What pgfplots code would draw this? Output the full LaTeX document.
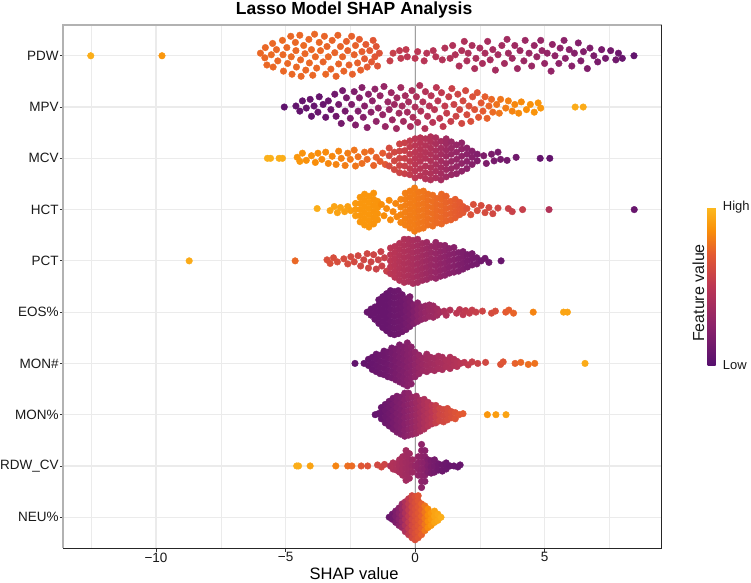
\documentclass[border=0pt]{standalone}
\usepackage{pgfplots}
\pgfplotsset{compat=1.18}
\usepackage{fontspec}
\setmainfont{Liberation Sans}
\definecolor{gridc}{RGB}{235,235,235}
\definecolor{zeroline}{RGB}{160,160,160}
\definecolor{frameL}{RGB}{178,178,178}
\pgfplotsset{
  colormap={shap}{rgb255(0pt)=(87,16,110) rgb255(25pt)=(140,35,106) rgb255(50pt)=(188,55,84) rgb255(70pt)=(228,90,49) rgb255(85pt)=(249,142,9) rgb255(100pt)=(252,186,31)},
  swarm/.style={scatter, only marks, mark=*, mark size=3.3pt, point meta=explicit,
    scatter/use mapped color={draw=mapped color, fill=mapped color}},
}
\begin{document}
\begin{tikzpicture}
\begin{axis}[
  name=ax,
  scale only axis, width=598.4pt, height=523pt,
  xmin=-13.58, xmax=9.52, ymin=0.4, ymax=10.6,
  xtick={-10,-5,0,5}, xticklabels={−10,−5,0,5},
  minor xtick={-12.5,-7.5,-2.5,2.5,7.5},
  ytick={1,2,...,10},
  yticklabels={NEU\%,RDW\_CV,MON\%,MON\#,EOS\%,PCT,HCT,MCV,MPV,PDW},
  grid=both,
  major grid style={gridc, line width=1.2pt},
  minor grid style={gridc, line width=0.6pt},
  tick pos=left, tick align=outside,
  major tick length=3.5pt, minor tick length=0pt,
  tick style={black!80, line width=0.8pt},
  axis line style={draw=none},
  ticklabel style={font=\fontsize{13.5}{16}\selectfont, text=black!90},
  yticklabel style={inner sep=1pt},
  xticklabel style={inner sep=1pt},
  xlabel={SHAP value},
  xlabel style={font=\fontsize{16.5}{19}\selectfont, at={(axis description cs:0.486,0)}, anchor=base, yshift=-31pt},
  title={Lasso Model SHAP Analysis},
  title style={font=\bfseries\fontsize{17.5}{20}\selectfont, at={(axis description cs:0.486,1)}, anchor=base, yshift=4pt},
  colormap name=shap, point meta min=0, point meta max=1,
  colorbar,
  colorbar style={
    at={(parent axis.south east)}, anchor=south west,
    xshift=37.5pt, yshift=183pt,
    width=8pt, height=158pt,
    ytick={0,1}, yticklabels={Low,High},
    major tick length=0pt,
    axis line style={draw=none},
    yticklabel style={font=\fontsize{13}{15}\selectfont, inner sep=0pt, anchor=west, xshift=7pt, text=black!90},
    ylabel={Feature value},
    ylabel style={font=\fontsize{16}{19}\selectfont, at={(axis description cs:0,0.5)}, anchor=south, xshift=-7pt, text=black!90},
  },
  after end axis/.code={
    \draw[frameL, line width=1.6pt] (axis description cs:0,0) -- (axis description cs:0,1) -- (axis description cs:1,1);
    \draw[black!85, line width=0.9pt] (axis description cs:0,0) -- (axis description cs:1,0) -- (axis description cs:1,1);
  },
]
% reference line at zero
\addplot[zeroline, line width=1pt, forget plot] coordinates {(0,0.4) (0,10.6)};

% PDW
\addplot[swarm] table[row sep=\\, x=x, y expr=\thisrow{d}+10, meta=c] {
x d c\\
-12.52 0 .96\\ -9.77 0 .88\\
-5.97 0.05 .74\\ -5.80 -0.04 .74\\ -5.78 0.16 .74\\ -5.72 -0.18 .74\\ -5.55 0.02 .75\\ -5.50 0.24 .74\\
-5.48 -0.22 .74\\ -5.35 0.12 .74\\ -5.30 -0.10 .74\\ -5.12 0.30 .75\\ -5.10 0.02 .74\\ -5.08 -0.30 .74\\
-4.95 0.16 .74\\ -4.92 -0.15 .74\\ -4.80 0.38 .74\\ -4.78 -0.02 .75\\ -4.75 -0.36 .74\\ -4.62 0.26 .74\\
-4.60 0.10 .74\\ -4.58 -0.22 .74\\ -4.45 0.40 .74\\ -4.42 -0.08 .74\\ -4.40 -0.40 .74\\ -4.30 0.20 .75\\
-4.25 0.04 .74\\ -4.22 -0.28 .74\\ -4.10 0.32 .74\\ -4.08 -0.14 .74\\ -4.00 0.12 .74\\ -3.95 -0.38 .74\\
-3.88 0.42 .74\\ -3.85 -0.02 .74\\ -3.80 -0.24 .74\\ -3.70 0.26 .74\\ -3.65 0.10 .74\\ -3.55 -0.12 .73\\
-3.50 0.38 .73\\ -3.45 -0.36 .74\\ -3.40 0.18 .73\\ -3.35 -0.02 .74\\ -3.25 -0.26 .73\\ -3.20 0.30 .73\\
-3.10 0.06 .73\\ -3.05 -0.40 .73\\ -2.98 0.40 .73\\ -2.95 -0.16 .73\\ -2.88 0.18 .73\\ -2.80 -0.02 .73\\
-2.75 -0.30 .73\\ -2.65 0.28 .72\\ -2.60 0.10 .72\\ -2.55 -0.18 .72\\ -2.45 0.38 .72\\ -2.42 -0.36 .72\\
-2.35 0.02 .72\\ -2.30 0.20 .72\\ -2.22 -0.14 .72\\ -2.15 0.32 .71\\ -2.10 -0.28 .72\\ -2.05 0.08 .71\\
-1.95 -0.06 .70\\ -1.90 0.22 .70\\ -1.85 -0.22 .70\\ -1.75 0.10 .70\\ -1.68 -0.12 .69\\ -1.62 0.30 .68\\
-1.55 -0.02 .68\\ -1.50 0.18 .67\\ -1.45 -0.20 .67\\ -1.38 0.05 .66\\
-0.97 -0.10 .55\\ -0.85 0.05 .55\\ -0.60 0.10 .52\\ -0.55 -0.05 .52\\ -0.35 0.12 .52\\ -0.30 -0.02 .50\\
0.00 -0.05 .50\\ 0.10 0.08 .50\\ 0.35 -0.10 .48\\ 0.45 0.05 .48\\ 0.70 0.10 .47\\ 0.80 -0.02 .47\\
1.05 -0.08 .45\\ 1.15 0.15 .45\\ 1.35 -0.05 .45\\ 1.45 0.20 .44\\ 1.55 0.02 .44\\ 1.70 -0.20 .43\\
1.80 0.10 .43\\ 1.90 0.28 .43\\ 2.00 -0.10 .42\\ 2.05 0.05 .42\\ 2.20 0.20 .41\\ 2.30 -0.25 .41\\
2.35 -0.05 .41\\ 2.50 0.15 .40\\ 2.60 -0.15 .40\\ 2.70 0.05 .40\\ 2.80 0.28 .39\\ 2.90 -0.08 .39\\
3.00 0.12 .38\\ 3.10 -0.28 .38\\ 3.20 0.02 .38\\ 3.35 0.20 .37\\ 3.45 -0.15 .37\\ 3.55 0.32 .36\\
3.60 0.05 .36\\ 3.75 -0.05 .35\\ 3.85 0.20 .35\\ 3.95 -0.25 .34\\ 4.05 0.10 .34\\ 4.20 -0.10 .33\\
4.25 0.30 .33\\ 4.40 0.05 .32\\ 4.50 -0.20 .32\\ 4.60 0.20 .31\\ 4.70 -0.02 .31\\ 4.85 0.30 .30\\
4.90 0.10 .30\\ 5.00 -0.15 .30\\ 5.10 0.05 .29\\ 5.25 -0.30 .28\\ 5.30 0.22 .28\\ 5.40 0.00 .27\\
5.55 -0.15 .26\\ 5.60 0.15 .26\\ 5.75 0.30 .25\\ 5.80 -0.05 .25\\ 5.95 0.12 .24\\ 6.05 -0.20 .23\\
6.15 0.05 .22\\ 6.30 0.25 .21\\ 6.40 -0.10 .20\\ 6.50 0.08 .20\\ 6.65 -0.25 .19\\ 6.75 0.15 .18\\
6.90 0.00 .17\\ 7.05 -0.12 .16\\ 7.20 0.12 .15\\ 7.35 -0.05 .14\\ 7.55 0.10 .13\\ 7.75 -0.08 .12\\
7.85 0.05 .10\\ 8.00 -0.05 .08\\ 8.45 0.00 .05\\
};

% MPV
\addplot[swarm] table[row sep=\\, x=x, y expr=\thisrow{d}+9, meta=c] {
x d c\\
-5.05 0 .04\\ -4.60 0.02 .05\\ -4.45 -0.08 .05\\ -4.35 0.12 .06\\ -4.20 -0.02 .06\\ -4.05 0.15 .07\\
-4.00 -0.18 .06\\ -3.90 0.02 .07\\ -3.75 -0.10 .08\\ -3.70 0.20 .07\\ -3.55 0.05 .08\\ -3.45 -0.20 .09\\
-3.35 0.12 .09\\ -3.25 -0.05 .10\\ -3.10 0.25 .12\\ -3.05 -0.18 .12\\ -2.95 0.05 .13\\ -2.85 -0.32 .14\\
-2.80 0.32 .14\\ -2.70 -0.08 .15\\ -2.65 0.18 .16\\ -2.50 -0.22 .17\\ -2.45 0.05 .18\\ -2.35 0.30 .19\\
-2.30 -0.35 .20\\ -2.20 -0.08 .20\\ -2.15 0.18 .21\\ -2.05 0.38 .22\\ -2.00 -0.20 .22\\ -1.95 0.02 .23\\
-1.85 -0.40 .24\\ -1.80 0.25 .24\\ -1.70 -0.10 .25\\ -1.65 0.12 .26\\ -1.55 0.35 .27\\ -1.50 -0.28 .27\\
-1.42 -0.02 .28\\ -1.35 0.22 .29\\ -1.25 -0.15 .30\\ -1.20 0.40 .30\\ -1.15 -0.38 .31\\ -1.05 0.10 .32\\
-1.00 -0.05 .32\\ -0.92 0.28 .33\\ -0.88 -0.25 .33\\ -0.80 0.05 .34\\ -0.72 -0.42 .35\\ -0.70 0.18 .35\\
-0.62 -0.12 .36\\ -0.55 0.38 .36\\ -0.50 0.02 .37\\ -0.45 -0.28 .37\\ -0.38 0.22 .38\\ -0.30 -0.10 .38\\
-0.25 0.10 .39\\ -0.18 -0.38 .40\\ -0.12 0.32 .40\\ -0.08 -0.20 .41\\ 0.00 0.00 .42\\ 0.05 0.20 .42\\
0.10 -0.30 .43\\ 0.18 0.42 .43\\ 0.22 -0.08 .44\\ 0.30 0.10 .45\\ 0.38 -0.42 .45\\ 0.40 0.30 .46\\
0.48 -0.18 .46\\ 0.55 0.02 .47\\ 0.62 0.22 .48\\ 0.68 -0.30 .48\\ 0.75 -0.05 .49\\ 0.82 0.38 .50\\
0.88 0.12 .50\\ 0.95 -0.22 .51\\ 1.02 0.28 .52\\ 1.08 -0.38 .52\\ 1.15 0.02 .53\\ 1.22 -0.12 .54\\
1.30 0.20 .55\\ 1.38 -0.28 .55\\ 1.42 0.36 .56\\ 1.50 0.05 .57\\ 1.58 -0.18 .58\\ 1.65 0.25 .58\\
1.72 -0.05 .59\\ 1.80 -0.32 .60\\ 1.85 0.12 .60\\ 1.95 0.32 .61\\ 2.00 -0.15 .62\\ 2.08 0.02 .63\\
2.15 -0.28 .64\\ 2.22 0.20 .65\\ 2.30 -0.05 .66\\ 2.40 0.28 .67\\ 2.45 -0.20 .68\\ 2.55 0.08 .69\\
2.62 -0.08 .70\\ 2.70 0.20 .71\\ 2.78 -0.22 .72\\ 2.85 0.02 .73\\ 2.95 0.15 .74\\ 3.00 -0.10 .75\\
3.15 0.05 .77\\ 3.25 -0.12 .78\\ 3.30 0.15 .78\\ 3.50 -0.02 .80\\ 3.60 0.12 .81\\ 3.75 -0.08 .82\\
3.85 0.05 .83\\ 4.00 -0.12 .84\\ 4.10 0.10 .84\\ 4.30 -0.05 .85\\ 4.45 0.05 .86\\ 4.60 -0.10 .87\\
4.75 0.08 .87\\ 4.85 -0.02 .88\\ 6.18 0.00 .95\\ 6.49 0.00 .95\\
};

% MCV
\addplot[swarm] table[row sep=\\, x=x, y expr=\thisrow{d}+8, meta=c] {
x d c\\
-5.70 0 .97\\ -5.58 0 .97\\ -5.25 0 .96\\ -5.12 0 .96\\
-4.55 0.02 .88\\ -4.45 -0.06 .88\\ -4.35 0.10 .87\\ -4.20 -0.04 .86\\ -4.00 0.05 .86\\ -3.85 -0.08 .85\\
-3.75 0.10 .85\\ -3.60 -0.02 .84\\ -3.45 0.12 .84\\ -3.35 -0.10 .83\\ -3.20 0.04 .83\\ -3.05 -0.12 .82\\
-2.95 0.14 .82\\ -2.85 0.00 .81\\ -2.70 -0.14 .80\\ -2.60 0.10 .80\\ -2.50 -0.02 .79\\ -2.35 0.16 .78\\
-2.30 -0.15 .78\\ -2.20 0.03 .77\\ -2.05 -0.10 .76\\ -1.95 0.12 .76\\ -1.85 -0.02 .75\\ -1.70 0.14 .74\\
-1.60 -0.14 .73\\ -1.50 0.02 .72\\ -1.35 -0.06 .71\\ -1.25 0.10 .70\\ -1.15 -0.12 .69\\
-1.0 -0.15 .62\\ -1.0 0.05 .62\\ -1.0 0.20 .62\\
-0.8 -0.22 .60\\ -0.8 -0.05 .60\\ -0.8 0.12 .60\\
-0.6 -0.28 .58\\ -0.6 -0.14 .58\\ -0.6 0.00 .58\\ -0.6 0.14 .58\\ -0.6 0.28 .58\\
-0.4 -0.30 .56\\ -0.4 -0.15 .56\\ -0.4 0.00 .56\\ -0.4 0.15 .56\\ -0.4 0.30 .56\\
-0.2 -0.32 .53\\ -0.2 -0.20 .53\\ -0.2 -0.06 .53\\ -0.2 0.08 .53\\ -0.2 0.22 .53\\ -0.2 0.34 .53\\
0.0 -0.38 .50\\ 0.0 -0.25 .50\\ 0.0 -0.12 .50\\ 0.0 0.00 .50\\ 0.0 0.12 .50\\ 0.0 0.25 .50\\ 0.0 0.38 .50\\
0.2 -0.34 .48\\ 0.2 -0.20 .48\\ 0.2 -0.06 .48\\ 0.2 0.06 .48\\ 0.2 0.18 .48\\ 0.2 0.30 .48\\ 0.2 0.40 .48\\
0.4 -0.40 .46\\ 0.4 -0.28 .46\\ 0.4 -0.15 .46\\ 0.4 0.00 .46\\ 0.4 0.12 .46\\ 0.4 0.25 .46\\ 0.4 0.38 .46\\
0.6 -0.42 .44\\ 0.6 -0.30 .44\\ 0.6 -0.18 .44\\ 0.6 -0.05 .44\\ 0.6 0.08 .44\\ 0.6 0.20 .44\\ 0.6 0.32 .44\\ 0.6 0.42 .44\\
0.8 -0.38 .41\\ 0.8 -0.25 .41\\ 0.8 -0.12 .41\\ 0.8 0.02 .41\\ 0.8 0.15 .41\\ 0.8 0.28 .41\\ 0.8 0.40 .41\\
1.0 -0.42 .38\\ 1.0 -0.30 .38\\ 1.0 -0.18 .38\\ 1.0 -0.05 .38\\ 1.0 0.08 .38\\ 1.0 0.20 .38\\ 1.0 0.33 .38\\
1.2 -0.36 .35\\ 1.2 -0.22 .35\\ 1.2 -0.10 .35\\ 1.2 0.04 .35\\ 1.2 0.16 .35\\ 1.2 0.28 .35\\ 1.2 0.38 .35\\
1.4 -0.32 .32\\ 1.4 -0.20 .32\\ 1.4 -0.06 .32\\ 1.4 0.08 .32\\ 1.4 0.20 .32\\ 1.4 0.32 .32\\
1.6 -0.30 .30\\ 1.6 -0.16 .30\\ 1.6 -0.02 .30\\ 1.6 0.12 .30\\ 1.6 0.26 .30\\
1.8 -0.25 .27\\ 1.8 -0.10 .27\\ 1.8 0.04 .27\\ 1.8 0.18 .27\\ 1.8 0.30 .27\\
2.0 -0.20 .25\\ 2.0 -0.06 .25\\ 2.0 0.08 .25\\ 2.0 0.20 .25\\
2.2 -0.12 .22\\ 2.2 0.02 .22\\ 2.2 0.14 .22\\
2.4 -0.05 .20\\ 2.4 0.08 .20\\
2.65 0.05 .18\\ 2.75 -0.10 .18\\ 2.95 0.08 .16\\ 3.05 -0.05 .15\\ 3.20 0.12 .15\\ 3.30 -0.02 .14\\
3.55 -0.04 .13\\ 3.90 0.02 .12\\ 4.83 0 .06\\ 5.20 0 .05\\
};

% HCT
\addplot[swarm] table[row sep=\\, x=x, y expr=\thisrow{d}+7, meta=c] {
x d c\\
-3.78 0.02 .96\\ -3.28 -0.02 .93\\ -3.12 0.06 .93\\ -3.00 -0.06 .92\\ -2.88 0.04 .92\\ -2.72 -0.04 .91\\
-2.60 0.06 .91\\ -2.48 -0.02 .90\\
-2.30 -0.12 .89\\ -2.30 0.00 .89\\ -2.30 0.12 .89\\
-2.12 -0.24 .88\\ -2.12 -0.12 .88\\ -2.12 0.00 .88\\ -2.12 0.12 .88\\ -2.12 0.24 .88\\
-1.95 -0.30 .88\\ -1.95 -0.18 .88\\ -1.95 -0.06 .88\\ -1.95 0.06 .88\\ -1.95 0.18 .88\\ -1.95 0.30 .88\\
-1.78 -0.34 .88\\ -1.78 -0.22 .88\\ -1.78 -0.10 .88\\ -1.78 0.02 .88\\ -1.78 0.14 .88\\ -1.78 0.26 .88\\
-1.60 -0.28 .87\\ -1.60 -0.16 .87\\ -1.60 -0.04 .87\\ -1.60 0.08 .87\\ -1.60 0.20 .87\\ -1.60 0.32 .87\\
-1.45 -0.20 .87\\ -1.45 -0.08 .87\\ -1.45 0.04 .87\\ -1.45 0.16 .87\\
-1.30 0.10 .85\\ -1.20 -0.12 .85\\ -1.10 0.02 .84\\ -1.00 0.18 .84\\ -0.95 -0.20 .84\\ -0.85 -0.04 .83\\
-0.75 0.12 .83\\ -0.70 -0.14 .83\\
-0.55 -0.25 .82\\ -0.55 -0.10 .82\\ -0.55 0.05 .82\\ -0.55 0.20 .82\\
-0.38 -0.30 .81\\ -0.38 -0.18 .81\\ -0.38 -0.05 .81\\ -0.38 0.08 .81\\ -0.38 0.20 .81\\ -0.38 0.32 .81\\
-0.20 -0.36 .80\\ -0.20 -0.24 .80\\ -0.20 -0.12 .80\\ -0.20 0.00 .80\\ -0.20 0.12 .80\\ -0.20 0.24 .80\\ -0.20 0.36 .80\\
-0.02 -0.42 .80\\ -0.02 -0.30 .80\\ -0.02 -0.18 .80\\ -0.02 -0.06 .80\\ -0.02 0.06 .80\\ -0.02 0.18 .80\\ -0.02 0.30 .80\\ -0.02 0.42 .80\\
0.15 -0.38 .79\\ 0.15 -0.26 .79\\ 0.15 -0.14 .79\\ 0.15 -0.02 .79\\ 0.15 0.10 .79\\ 0.15 0.22 .79\\ 0.15 0.34 .79\\
0.32 -0.36 .78\\ 0.32 -0.24 .78\\ 0.32 -0.12 .78\\ 0.32 0.00 .78\\ 0.32 0.12 .78\\ 0.32 0.24 .78\\ 0.32 0.36 .78\\
0.50 -0.30 .77\\ 0.50 -0.18 .77\\ 0.50 -0.06 .77\\ 0.50 0.06 .77\\ 0.50 0.18 .77\\ 0.50 0.30 .77\\
0.68 -0.32 .76\\ 0.68 -0.20 .76\\ 0.68 -0.08 .76\\ 0.68 0.04 .76\\ 0.68 0.16 .76\\ 0.68 0.28 .76\\
0.85 -0.26 .75\\ 0.85 -0.14 .75\\ 0.85 -0.02 .75\\ 0.85 0.10 .75\\ 0.85 0.22 .75\\
1.02 -0.28 .74\\ 1.02 -0.16 .74\\ 1.02 -0.04 .74\\ 1.02 0.08 .74\\ 1.02 0.20 .74\\ 1.02 0.30 .74\\
1.20 -0.22 .73\\ 1.20 -0.10 .73\\ 1.20 0.02 .73\\ 1.20 0.14 .73\\ 1.20 0.26 .73\\
1.38 -0.20 .72\\ 1.38 -0.08 .72\\ 1.38 0.04 .72\\ 1.38 0.16 .72\\
1.55 -0.16 .71\\ 1.55 -0.04 .71\\ 1.55 0.08 .71\\ 1.55 0.20 .71\\
1.72 -0.10 .70\\ 1.72 0.02 .70\\ 1.72 0.14 .70\\
1.85 -0.06 .69\\ 1.85 0.06 .69\\
2.00 0.02 .66\\ 2.15 -0.10 .65\\ 2.25 0.10 .64\\ 2.40 -0.02 .63\\ 2.55 0.08 .62\\ 2.70 -0.06 .62\\
2.85 0.04 .61\\ 3.00 -0.08 .60\\ 3.20 0.03 .59\\ 3.60 0.02 .57\\ 3.75 -0.04 .56\\ 4.15 0.00 .55\\
5.17 0 .45\\ 8.46 0 .08\\
};

% PCT
\addplot[swarm] table[row sep=\\, x=x, y expr=\thisrow{d}+6, meta=c] {
x d c\\
-8.72 0 .95\\ -4.63 0 .74\\
-3.40 0.02 .64\\ -3.28 -0.05 .64\\ -3.15 0.06 .63\\ -3.00 -0.02 .63\\ -2.75 0.04 .62\\ -2.60 -0.06 .62\\
-2.48 0.08 .61\\ -2.35 -0.02 .61\\ -2.20 0.10 .60\\ -2.10 -0.10 .60\\ -1.98 0.02 .59\\ -1.85 0.14 .59\\
-1.80 -0.14 .59\\ -1.70 -0.02 .58\\ -1.60 0.12 .58\\ -1.50 -0.16 .57\\ -1.42 0.02 .57\\ -1.32 0.18 .56\\
-1.28 -0.10 .56\\ -1.18 0.06 .55\\ -1.10 -0.20 .55\\
-0.95 -0.25 .50\\ -0.95 -0.12 .50\\ -0.95 0.00 .50\\ -0.95 0.12 .50\\ -0.95 0.25 .50\\
-0.78 -0.32 .48\\ -0.78 -0.20 .48\\ -0.78 -0.08 .48\\ -0.78 0.04 .48\\ -0.78 0.16 .48\\ -0.78 0.28 .48\\
-0.60 -0.38 .46\\ -0.60 -0.26 .46\\ -0.60 -0.14 .46\\ -0.60 -0.02 .46\\ -0.60 0.10 .46\\ -0.60 0.22 .46\\ -0.60 0.34 .46\\
-0.42 -0.42 .44\\ -0.42 -0.30 .44\\ -0.42 -0.18 .44\\ -0.42 -0.06 .44\\ -0.42 0.06 .44\\ -0.42 0.18 .44\\ -0.42 0.30 .44\\ -0.42 0.42 .44\\
-0.25 -0.40 .42\\ -0.25 -0.28 .42\\ -0.25 -0.16 .42\\ -0.25 -0.04 .42\\ -0.25 0.08 .42\\ -0.25 0.20 .42\\ -0.25 0.32 .42\\ -0.25 0.42 .42\\
-0.08 -0.44 .40\\ -0.08 -0.32 .40\\ -0.08 -0.20 .40\\ -0.08 -0.08 .40\\ -0.08 0.04 .40\\ -0.08 0.16 .40\\ -0.08 0.28 .40\\ -0.08 0.40 .40\\
0.10 -0.42 .38\\ 0.10 -0.30 .38\\ 0.10 -0.18 .38\\ 0.10 -0.06 .38\\ 0.10 0.06 .38\\ 0.10 0.18 .38\\ 0.10 0.30 .38\\ 0.10 0.42 .38\\
0.28 -0.38 .36\\ 0.28 -0.26 .36\\ 0.28 -0.14 .36\\ 0.28 -0.02 .36\\ 0.28 0.10 .36\\ 0.28 0.22 .36\\ 0.28 0.34 .36\\
0.45 -0.36 .34\\ 0.45 -0.24 .34\\ 0.45 -0.12 .34\\ 0.45 0.00 .34\\ 0.45 0.12 .34\\ 0.45 0.24 .34\\ 0.45 0.36 .34\\
0.62 -0.32 .32\\ 0.62 -0.20 .32\\ 0.62 -0.08 .32\\ 0.62 0.04 .32\\ 0.62 0.16 .32\\ 0.62 0.28 .32\\
0.80 -0.34 .30\\ 0.80 -0.22 .30\\ 0.80 -0.10 .30\\ 0.80 0.02 .30\\ 0.80 0.14 .30\\ 0.80 0.26 .30\\ 0.80 0.36 .30\\
0.98 -0.30 .28\\ 0.98 -0.18 .28\\ 0.98 -0.06 .28\\ 0.98 0.06 .28\\ 0.98 0.18 .28\\ 0.98 0.30 .28\\
1.15 -0.28 .26\\ 1.15 -0.16 .26\\ 1.15 -0.04 .26\\ 1.15 0.08 .26\\ 1.15 0.20 .26\\ 1.15 0.30 .26\\
1.32 -0.24 .24\\ 1.32 -0.12 .24\\ 1.32 0.00 .24\\ 1.32 0.12 .24\\ 1.32 0.24 .24\\
1.50 -0.22 .22\\ 1.50 -0.10 .22\\ 1.50 0.02 .22\\ 1.50 0.14 .22\\ 1.50 0.26 .22\\
1.68 -0.20 .20\\ 1.68 -0.08 .20\\ 1.68 0.04 .20\\ 1.68 0.16 .20\\
1.85 -0.16 .18\\ 1.85 -0.04 .18\\ 1.85 0.08 .18\\ 1.85 0.18 .18\\
2.02 -0.12 .16\\ 2.02 0.00 .16\\ 2.02 0.12 .16\\
2.20 -0.08 .15\\ 2.20 0.04 .15\\ 2.20 0.14 .15\\
2.38 -0.06 .14\\ 2.38 0.06 .14\\
2.55 0.00 .12\\ 2.70 0.05 .12\\ 2.85 -0.03 .11\\ 3.32 0 .08\\
};

% EOS%
\addplot[swarm] table[row sep=\\, x=x, y expr=\thisrow{d}+5, meta=c] {
x d c\\
-1.85 0.00 .08\\
-1.70 -0.06 .08\\ -1.70 0.06 .08\\
-1.55 -0.14 .08\\ -1.55 -0.02 .08\\ -1.55 0.10 .08\\
-1.40 -0.22 .08\\ -1.40 -0.10 .08\\ -1.40 0.02 .08\\ -1.40 0.14 .08\\ -1.40 0.24 .08\\
-1.25 -0.30 .08\\ -1.25 -0.18 .08\\ -1.25 -0.06 .08\\ -1.25 0.06 .08\\ -1.25 0.18 .08\\ -1.25 0.30 .08\\
-1.10 -0.36 .08\\ -1.10 -0.24 .08\\ -1.10 -0.12 .08\\ -1.10 0.00 .08\\ -1.10 0.12 .08\\ -1.10 0.24 .08\\ -1.10 0.36 .08\\
-0.95 -0.42 .09\\ -0.95 -0.30 .09\\ -0.95 -0.18 .09\\ -0.95 -0.06 .09\\ -0.95 0.06 .09\\ -0.95 0.18 .09\\ -0.95 0.30 .09\\ -0.95 0.42 .09\\
-0.80 -0.44 .10\\ -0.80 -0.32 .10\\ -0.80 -0.20 .10\\ -0.80 -0.08 .10\\ -0.80 0.04 .10\\ -0.80 0.16 .10\\ -0.80 0.28 .10\\ -0.80 0.40 .10\\
-0.65 -0.42 .11\\ -0.65 -0.30 .11\\ -0.65 -0.18 .11\\ -0.65 -0.06 .11\\ -0.65 0.06 .11\\ -0.65 0.18 .11\\ -0.65 0.30 .11\\ -0.65 0.42 .11\\
-0.50 -0.38 .12\\ -0.50 -0.26 .12\\ -0.50 -0.14 .12\\ -0.50 -0.02 .12\\ -0.50 0.10 .12\\ -0.50 0.22 .12\\ -0.50 0.34 .12\\
-0.35 -0.34 .14\\ -0.35 -0.22 .14\\ -0.35 -0.10 .14\\ -0.35 0.02 .14\\ -0.35 0.14 .14\\ -0.35 0.26 .14\\
-0.20 -0.28 .16\\ -0.20 -0.16 .16\\ -0.20 -0.04 .16\\ -0.20 0.08 .16\\ -0.20 0.20 .16\\ -0.20 0.30 .16\\
-0.05 -0.22 .20\\ -0.05 -0.10 .20\\ -0.05 0.02 .20\\ -0.05 0.14 .20\\
0.10 -0.18 .24\\ 0.10 -0.06 .24\\ 0.10 0.06 .24\\ 0.10 0.18 .24\\
0.25 -0.14 .27\\ 0.25 -0.02 .27\\ 0.25 0.10 .27\\
0.40 -0.12 .30\\ 0.40 0.00 .30\\ 0.40 0.12 .30\\
0.55 -0.08 .32\\ 0.55 0.04 .32\\ 0.55 0.14 .32\\
0.70 -0.10 .34\\ 0.70 0.02 .34\\ 0.70 0.12 .34\\
0.85 -0.06 .36\\ 0.85 0.06 .36\\
0.97 0.00 .38\\
1.12 0.02 .42\\ 1.20 -0.06 .43\\ 1.35 0.04 .45\\ 1.60 -0.02 .50\\ 1.72 0.05 .50\\ 1.85 -0.05 .51\\
1.95 0.03 .52\\ 2.10 -0.02 .53\\ 2.20 0.04 .54\\ 2.35 0.00 .55\\ 2.60 0.02 .58\\ 2.95 -0.02 .62\\
3.10 0.02 .63\\ 3.50 0.00 .70\\ 3.62 0.04 .71\\ 3.80 -0.02 .73\\ 4.56 0 .82\\ 5.73 0 .93\\ 5.88 0 .93\\
};

% MON#
\addplot[swarm] table[row sep=\\, x=x, y expr=\thisrow{d}+4, meta=c] {
x d c\\
-2.32 0 .05\\ -1.97 0 .06\\
-1.80 -0.04 .07\\ -1.80 0.08 .07\\
-1.65 -0.12 .08\\ -1.65 0.00 .08\\ -1.65 0.12 .08\\
-1.50 -0.16 .09\\ -1.50 -0.04 .09\\ -1.50 0.08 .09\\ -1.50 0.18 .09\\
-1.35 -0.20 .10\\ -1.35 -0.08 .10\\ -1.35 0.04 .10\\ -1.35 0.16 .10\\
-1.20 -0.22 .11\\ -1.20 -0.10 .11\\ -1.20 0.02 .11\\ -1.20 0.14 .11\\ -1.20 0.24 .11\\
-1.05 -0.26 .12\\ -1.05 -0.14 .12\\ -1.05 -0.02 .12\\ -1.05 0.10 .12\\ -1.05 0.22 .12\\
-0.90 -0.28 .14\\ -0.90 -0.16 .14\\ -0.90 -0.04 .14\\ -0.90 0.08 .14\\ -0.90 0.20 .14\\ -0.90 0.30 .14\\
-0.75 -0.32 .16\\ -0.75 -0.20 .16\\ -0.75 -0.08 .16\\ -0.75 0.04 .16\\ -0.75 0.16 .16\\ -0.75 0.28 .16\\
-0.60 -0.36 .18\\ -0.60 -0.24 .18\\ -0.60 -0.12 .18\\ -0.60 0.00 .18\\ -0.60 0.12 .18\\ -0.60 0.24 .18\\ -0.60 0.36 .18\\
-0.45 -0.40 .20\\ -0.45 -0.28 .20\\ -0.45 -0.16 .20\\ -0.45 -0.04 .20\\ -0.45 0.08 .20\\ -0.45 0.20 .20\\ -0.45 0.32 .20\\
-0.30 -0.44 .22\\ -0.30 -0.32 .22\\ -0.30 -0.20 .22\\ -0.30 -0.08 .22\\ -0.30 0.04 .22\\ -0.30 0.16 .22\\ -0.30 0.28 .22\\ -0.30 0.40 .22\\
-0.15 -0.40 .24\\ -0.15 -0.28 .24\\ -0.15 -0.16 .24\\ -0.15 -0.04 .24\\ -0.15 0.08 .24\\ -0.15 0.20 .24\\ -0.15 0.32 .24\\
0.00 -0.26 .27\\ 0.00 -0.14 .27\\ 0.00 -0.02 .27\\ 0.00 0.10 .27\\ 0.00 0.22 .27\\
0.15 -0.20 .30\\ 0.15 -0.08 .30\\ 0.15 0.04 .30\\ 0.15 0.16 .30\\
0.30 -0.14 .33\\ 0.30 -0.02 .33\\ 0.30 0.10 .33\\
0.45 -0.16 .35\\ 0.45 -0.04 .35\\ 0.45 0.08 .35\\ 0.45 0.18 .35\\
0.60 -0.12 .36\\ 0.60 0.00 .36\\ 0.60 0.12 .36\\
0.75 -0.14 .37\\ 0.75 -0.02 .37\\ 0.75 0.10 .37\\
0.90 -0.10 .39\\ 0.90 0.02 .39\\ 0.90 0.14 .39\\
1.05 -0.12 .40\\ 1.05 0.00 .40\\ 1.05 0.12 .40\\
1.20 -0.06 .42\\ 1.20 0.06 .42\\
1.35 -0.10 .43\\ 1.35 0.02 .43\\ 1.35 0.12 .43\\
1.50 -0.04 .45\\ 1.50 0.08 .45\\
1.62 -0.06 .46\\ 1.62 0.04 .46\\
1.75 0.00 .48\\
1.90 0.02 .50\\ 2.05 -0.03 .52\\ 2.20 0.03 .54\\ 2.42 0.00 .56\\ 2.72 0.02 .60\\ 3.30 -0.02 .66\\
3.40 0.03 .67\\ 3.86 0.00 .72\\ 4.08 0.02 .74\\ 4.37 -0.02 .76\\ 4.62 0.00 .77\\ 6.56 0 .95\\
};

% MON%
\addplot[swarm] table[row sep=\\, x=x, y expr=\thisrow{d}+3, meta=c] {
x d c\\
-1.54 0.00 .06\\ -1.42 0.02 .07\\
-1.30 -0.08 .08\\ -1.30 0.04 .08\\ -1.30 0.14 .08\\
-1.15 -0.16 .10\\ -1.15 -0.04 .10\\ -1.15 0.08 .10\\ -1.15 0.20 .10\\
-1.00 -0.22 .12\\ -1.00 -0.10 .12\\ -1.00 0.02 .12\\ -1.00 0.14 .12\\ -1.00 0.26 .12\\
-0.85 -0.28 .15\\ -0.85 -0.16 .15\\ -0.85 -0.04 .15\\ -0.85 0.08 .15\\ -0.85 0.20 .15\\ -0.85 0.32 .15\\
-0.70 -0.34 .18\\ -0.70 -0.22 .18\\ -0.70 -0.10 .18\\ -0.70 0.02 .18\\ -0.70 0.14 .18\\ -0.70 0.26 .18\\ -0.70 0.36 .18\\
-0.55 -0.38 .20\\ -0.55 -0.26 .20\\ -0.55 -0.14 .20\\ -0.55 -0.02 .20\\ -0.55 0.10 .20\\ -0.55 0.22 .20\\ -0.55 0.34 .20\\
-0.40 -0.42 .23\\ -0.40 -0.30 .23\\ -0.40 -0.18 .23\\ -0.40 -0.06 .23\\ -0.40 0.06 .23\\ -0.40 0.18 .23\\ -0.40 0.30 .23\\ -0.40 0.42 .23\\
-0.25 -0.40 .26\\ -0.25 -0.28 .26\\ -0.25 -0.16 .26\\ -0.25 -0.04 .26\\ -0.25 0.08 .26\\ -0.25 0.20 .26\\ -0.25 0.32 .26\\ -0.25 0.42 .26\\
-0.10 -0.38 .30\\ -0.10 -0.26 .30\\ -0.10 -0.14 .30\\ -0.10 -0.02 .30\\ -0.10 0.10 .30\\ -0.10 0.22 .30\\ -0.10 0.34 .30\\
0.05 -0.36 .34\\ 0.05 -0.24 .34\\ 0.05 -0.12 .34\\ 0.05 0.00 .34\\ 0.05 0.12 .34\\ 0.05 0.24 .34\\ 0.05 0.36 .34\\
0.20 -0.32 .38\\ 0.20 -0.20 .38\\ 0.20 -0.08 .38\\ 0.20 0.04 .38\\ 0.20 0.16 .38\\ 0.20 0.28 .38\\
0.35 -0.28 .42\\ 0.35 -0.16 .42\\ 0.35 -0.04 .42\\ 0.35 0.08 .42\\ 0.35 0.20 .42\\ 0.35 0.30 .42\\
0.50 -0.22 .46\\ 0.50 -0.10 .46\\ 0.50 0.02 .46\\ 0.50 0.14 .46\\ 0.50 0.24 .46\\
0.65 -0.18 .50\\ 0.65 -0.06 .50\\ 0.65 0.06 .50\\ 0.65 0.18 .50\\
0.80 -0.16 .54\\ 0.80 -0.04 .54\\ 0.80 0.08 .54\\ 0.80 0.18 .54\\
0.95 -0.12 .58\\ 0.95 0.00 .58\\ 0.95 0.12 .58\\
1.10 -0.14 .60\\ 1.10 -0.02 .60\\ 1.10 0.10 .60\\
1.25 -0.10 .62\\ 1.25 0.02 .62\\ 1.25 0.12 .62\\
1.40 -0.06 .64\\ 1.40 0.06 .64\\
1.55 -0.08 .66\\ 1.55 0.04 .66\\
1.70 0.00 .68\\ 1.85 0.02 .70\\
2.79 0 .88\\ 3.12 0 .90\\ 3.51 0 .92\\
};

% RDW_CV
\addplot[swarm] table[row sep=\\, x=x, y expr=\thisrow{d}+2, meta=c] {
x d c\\
-4.57 0 .96\\ -4.50 0 .96\\ -4.05 0 .92\\ -3.06 0 .82\\ -2.60 0 .76\\ -2.44 0 .75\\ -2.08 0 .68\\
-1.83 0 .66\\ -1.45 0.02 .60\\ -1.30 -0.02 .60\\ -1.18 0.03 .58\\
-0.95 0.00 .45\\
-0.85 -0.06 .44\\ -0.85 0.06 .44\\
-0.72 -0.08 .42\\ -0.72 0.04 .42\\
-0.60 -0.12 .40\\ -0.60 0.00 .40\\ -0.60 0.12 .40\\
-0.48 -0.18 .38\\ -0.48 -0.06 .38\\ -0.48 0.06 .38\\ -0.48 0.18 .38\\
-0.35 -0.28 .36\\ -0.35 -0.16 .36\\ -0.35 -0.04 .36\\ -0.35 0.08 .36\\ -0.35 0.20 .36\\ -0.35 0.30 .36\\
-0.22 -0.24 .35\\ -0.22 -0.12 .35\\ -0.22 0.00 .35\\ -0.22 0.12 .35\\ -0.22 0.24 .35\\
-0.10 -0.12 .33\\ -0.10 0.00 .33\\ -0.10 0.12 .33\\
0.02 0.00 .30\\
0.12 -0.18 .28\\ 0.12 -0.06 .28\\ 0.12 0.06 .28\\ 0.12 0.18 .28\\
0.25 -0.42 .26\\ 0.25 -0.30 .26\\ 0.25 -0.18 .26\\ 0.25 -0.06 .26\\ 0.25 0.06 .26\\ 0.25 0.18 .26\\ 0.25 0.30 .26\\ 0.25 0.42 .26\\
0.38 -0.30 .24\\ 0.38 -0.18 .24\\ 0.38 -0.06 .24\\ 0.38 0.06 .24\\ 0.38 0.18 .24\\ 0.38 0.30 .24\\
0.50 -0.12 .20\\ 0.50 0.00 .20\\ 0.50 0.12 .20\\
0.62 -0.14 .16\\ 0.62 -0.02 .16\\ 0.62 0.10 .16\\
0.75 -0.12 .14\\ 0.75 0.00 .14\\ 0.75 0.12 .14\\
0.90 -0.08 .12\\ 0.90 0.04 .12\\
1.05 -0.10 .10\\ 1.05 0.02 .10\\
1.20 -0.06 .09\\ 1.20 0.06 .09\\
1.35 0.00 .08\\ 1.50 0.00 .08\\ 1.65 -0.02 .07\\ 1.74 0.02 .07\\
};

% NEU%
\addplot[swarm] table[row sep=\\, x=x, y expr=\thisrow{d}+1, meta=c] {
x d c\\
-1.00 0.00 .08\\
-0.88 -0.04 .12\\ -0.88 0.06 .12\\
-0.75 -0.10 .18\\ -0.75 0.02 .18\\ -0.75 0.12 .18\\
-0.62 -0.16 .24\\ -0.62 -0.04 .24\\ -0.62 0.08 .24\\ -0.62 0.18 .24\\
-0.50 -0.20 .32\\ -0.50 -0.08 .32\\ -0.50 0.04 .32\\ -0.50 0.16 .32\\ -0.50 0.26 .32\\
-0.38 -0.28 .42\\ -0.38 -0.16 .42\\ -0.38 -0.04 .42\\ -0.38 0.08 .42\\ -0.38 0.20 .42\\ -0.38 0.30 .42\\
-0.25 -0.34 .52\\ -0.25 -0.22 .52\\ -0.25 -0.10 .52\\ -0.25 0.02 .52\\ -0.25 0.14 .52\\ -0.25 0.26 .52\\ -0.25 0.36 .52\\
-0.12 -0.40 .60\\ -0.12 -0.28 .60\\ -0.12 -0.16 .60\\ -0.12 -0.04 .60\\ -0.12 0.08 .60\\ -0.12 0.20 .60\\ -0.12 0.32 .60\\ -0.12 0.42 .60\\
0.00 -0.44 .64\\ 0.00 -0.32 .64\\ 0.00 -0.20 .64\\ 0.00 -0.08 .64\\ 0.00 0.04 .64\\ 0.00 0.16 .64\\ 0.00 0.28 .64\\ 0.00 0.40 .64\\
0.12 -0.40 .68\\ 0.12 -0.28 .68\\ 0.12 -0.16 .68\\ 0.12 -0.04 .68\\ 0.12 0.08 .68\\ 0.12 0.20 .68\\ 0.12 0.32 .68\\ 0.12 0.42 .68\\
0.25 -0.34 .72\\ 0.25 -0.22 .72\\ 0.25 -0.10 .72\\ 0.25 0.02 .72\\ 0.25 0.14 .72\\ 0.25 0.26 .72\\
0.38 -0.26 .78\\ 0.38 -0.14 .78\\ 0.38 -0.02 .78\\ 0.38 0.10 .78\\ 0.38 0.22 .78\\
0.50 -0.20 .84\\ 0.50 -0.08 .84\\ 0.50 0.04 .84\\ 0.50 0.16 .84\\
0.62 -0.16 .88\\ 0.62 -0.04 .88\\ 0.62 0.08 .88\\
0.75 -0.10 .92\\ 0.75 0.02 .92\\ 0.75 0.12 .92\\
0.88 -0.06 .94\\ 0.88 0.06 .94\\
1.00 0.00 .96\\
};
\end{axis}
\pgfresetboundingbox
\path (ax.south west) ++(-63.3pt,-34pt) rectangle ++(751pt,582pt);
\end{tikzpicture}
\end{document}
